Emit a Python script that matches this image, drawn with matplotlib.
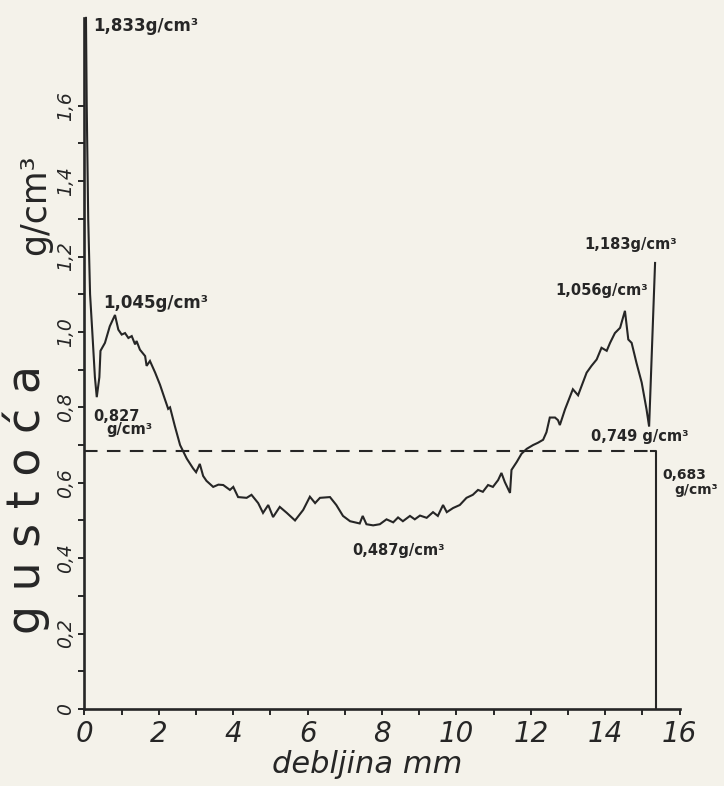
import matplotlib
matplotlib.use("Agg")
import matplotlib.pyplot as plt

# density profile across the board thickness
thickness_mm = [
    0.04, 0.06, 0.10, 0.15, 0.21, 0.28, 0.33, 0.40, 0.43, 0.55, 0.68, 0.82,
    0.91, 1.00, 1.09, 1.18, 1.27, 1.36, 1.40, 1.49, 1.63, 1.67, 1.76, 1.90,
    2.03, 2.16, 2.25, 2.30, 2.43, 2.57, 2.75, 2.92, 3.00, 3.10, 3.19, 3.28,
    3.46, 3.60, 3.73, 3.91, 4.00, 4.13, 4.36, 4.49, 4.67, 4.80, 4.94, 5.07,
    5.25, 5.44, 5.66, 5.88, 6.06, 6.20, 6.33, 6.60, 6.77, 6.95, 7.14, 7.40,
    7.48, 7.58, 7.76, 7.94, 8.12, 8.30, 8.43, 8.56, 8.75, 8.88, 9.02, 9.20,
    9.37, 9.50, 9.64, 9.74, 9.91, 10.09, 10.27, 10.44, 10.58, 10.71, 10.85,
    10.98, 11.12, 11.21, 11.30, 11.44, 11.48, 11.62, 11.75, 11.89, 12.06,
    12.19, 12.33, 12.42, 12.51, 12.65, 12.73, 12.78, 12.92, 13.13, 13.27,
    13.40, 13.50, 13.63, 13.77, 13.90, 14.04, 14.13, 14.26, 14.40, 14.53,
    14.62, 14.71, 14.84, 14.98, 15.11, 15.18, 15.34,
]
density = [
    1.833, 1.60, 1.30, 1.10, 1.00, 0.88, 0.827, 0.88, 0.95, 0.971, 1.015, 1.045,
    1.006, 0.993, 0.997, 0.984, 0.989, 0.967, 0.976, 0.953, 0.936, 0.910, 0.923, 0.892,
    0.860, 0.822, 0.796, 0.800, 0.750, 0.700, 0.664, 0.638, 0.628, 0.650, 0.618, 0.605,
    0.589, 0.595, 0.594, 0.581, 0.589, 0.562, 0.560, 0.568, 0.546, 0.520, 0.541, 0.509,
    0.536, 0.520, 0.500, 0.528, 0.563, 0.546, 0.560, 0.562, 0.541, 0.512, 0.498, 0.492,
    0.512, 0.490, 0.487, 0.490, 0.503, 0.495, 0.508, 0.498, 0.512, 0.503, 0.513, 0.507,
    0.522, 0.512, 0.541, 0.522, 0.533, 0.541, 0.560, 0.568, 0.581, 0.576, 0.594,
    0.589, 0.607, 0.626, 0.602, 0.573, 0.634, 0.655, 0.677, 0.690, 0.700,
    0.706, 0.714, 0.734, 0.773, 0.773, 0.766, 0.753, 0.795, 0.848, 0.832,
    0.866, 0.892, 0.910, 0.927, 0.958, 0.950, 0.971, 0.997, 1.011, 1.056,
    0.980, 0.971, 0.918, 0.866, 0.795, 0.749, 1.183,
]

mean_density = 0.683
board_end_mm = 15.36

x_ticks = [0, 2, 4, 6, 8, 10, 12, 14, 16]
x_tick_labels = ["0", "2", "4", "6", "8", "10", "12", "14", "16"]
y_ticks = [0, 0.2, 0.4, 0.6, 0.8, 1.0, 1.2, 1.4, 1.6]
y_tick_labels = ["0", "0,2", "0,4", "0,6", "0,8", "1,0", "1,2", "1,4", "1,6"]

# value callouts: text, x, y, horizontal alignment, size
callouts = [
    ("1,833g/cm³", 0.23, 1.812, "left", 12),
    ("1,045g/cm³", 0.50, 1.077, "left", 12),
    ("0,827", 0.24, 0.777, "left", 10.5),
    ("g/cm³", 1.20, 0.740, "center", 10.5),
    ("0,487g/cm³", 8.43, 0.419, "center", 10.5),
    ("1,056g/cm³", 13.91, 1.109, "center", 10.5),
    ("1,183g/cm³", 14.67, 1.231, "center", 10.5),
    ("0,749 g/cm³", 14.93, 0.724, "center", 10.5),
    ("0,683", 16.12, 0.621, "center", 10),
    ("g/cm³", 16.45, 0.581, "center", 10),
]

ink = "#262626"
paper = "#f4f2ea"

fig = plt.figure(figsize=(7.24, 7.86), dpi=100, facecolor=paper)
ax = fig.add_axes([0.1167, 0.098, 0.822, 0.8874])
ax.set_facecolor(paper)

ax.plot(thickness_mm, density, color=ink, lw=1.5, solid_joinstyle="miter")
ax.plot([0, board_end_mm - 0.14], [mean_density, mean_density], color=ink,
        lw=1.5, dashes=(6.5, 4.5))
ax.plot([board_end_mm - 0.14, board_end_mm, board_end_mm],
        [mean_density, mean_density, 0], color=ink, lw=1.5)

ax.set_xlim(0, 16)
ax.set_ylim(0, 1.85)
for side in ("top", "right"):
    ax.spines[side].set_visible(False)
for side in ("left", "bottom"):
    ax.spines[side].set_linewidth(1.9)
    ax.spines[side].set_color(ink)
ax.spines["left"].set_bounds(0, 1.833)

ax.set_xticks(x_ticks)
ax.set_xticklabels(x_tick_labels, style="italic", fontsize=20, color=ink)
ax.set_xticks(range(1, 16, 2), minor=True)
ax.set_yticks(y_ticks)
ax.set_yticklabels(y_tick_labels, style="italic", fontsize=13.5,
                   rotation=90, va="center", color=ink)
ax.set_yticks([0.1, 0.3, 0.5, 0.7, 0.9, 1.1, 1.3, 1.5], minor=True)
ax.tick_params(which="both", direction="out", length=4, width=1.4, color=ink)
ax.tick_params(axis="x", pad=4)
ax.tick_params(axis="y", pad=3)

for text, x, y, ha, size in callouts:
    ax.text(x, y, text, ha=ha, va="center", fontsize=size,
            fontweight="bold", color=ink, clip_on=False)

fig.text(0.507, 0.027, "debljina mm", ha="center", va="center", fontsize=22,
         style="italic", color=ink)
fig.text(0.036, 0.364, "g u s t o ć a", ha="center", va="center", fontsize=33,
         rotation=90, color=ink)
fig.text(0.048, 0.739, "g/cm³", ha="center", va="center", fontsize=25,
         rotation=90, color=ink)

fig.savefig("out.png", dpi=100, facecolor=paper)
